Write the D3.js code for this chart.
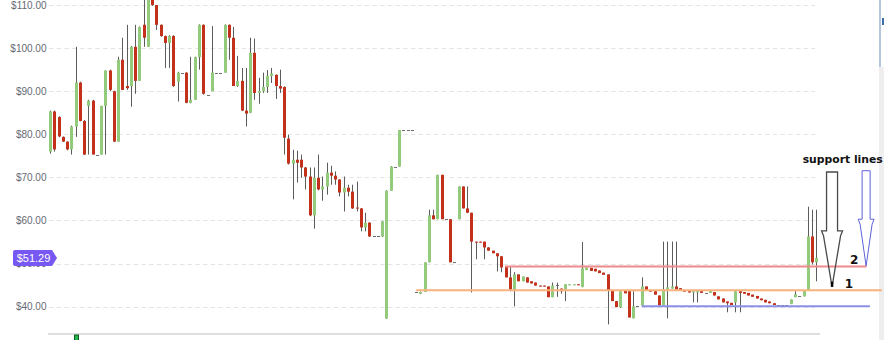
<!DOCTYPE html>
<html>
  <head>
    <meta charset="utf-8">
    <title>Price chart with support lines</title>
    <script src="https://d3js.org/d3.v7.min.js"></script>
    <style>
      body { margin: 0; background: #fff; }
      svg { display: block; font-family: "Liberation Sans", Arial, sans-serif; }
    </style>
  </head>
  <body>
    <svg width="884" height="340"></svg>
    <script>
    // one value per session
    var open = [
      76, 85.3, 84, 79.4, 78.3, 76.5, 81.8, 92, 83.1, 86.6,
      87.8, 75.3, 75.3, 86.6, 94.8, 90, 78.3, 97.3, 91.2, 91.2,
      100.3, 92.4, 105.4, 100.3, 112, 110, 105.4, 102.8, 101.2, 102.8,
      92.2, 94.3, 94.3, 87.3, 88, 97.9, 105.4, 89.2, 90, 94.3,
      94.3, 94.3, 105.4, 102.4, 91.2, 92.4, 85.5, 85, 98.9, 89.6,
      90, 91, 93.5, 93.8, 91.2, 91, 79, 73.2, 74.1, 74.1,
      72.3, 70.2, 61.2, 69.9, 67.2, 67.9, 71.1, 70.4, 69.5, 66.5,
      67.6, 66.7, 63, 62.8, 58.4, 59.5, 56.3, 56.3, 56.3, 37.3,
      66.9, 72.5, 72.5, 81, 81, 81, 43.3, 43, 43.4, 50.3,
      61.2, 60.3, 70.6, 60.3, 60.3, 50.3, 60.3, 67.9, 62.8, 61.8,
      55.1, 55.1, 55.1, 53.75, 53, 52.4, 51.7, 49.4, 46.8, 44,
      47.5, 45.9, 46.8, 45.9, 45.6, 44.9, 44.9, 44.7, 42.2, 45,
      44.2, 44, 45, 45, 45.2, 44.6, 48.5, 49, 48.8, 48.4,
      47.9, 47.5, 43.8, 41.3, 39.9, 43.8, 43.6, 37.3, 40.1, 40.3,
      44.7, 43.9, 43.6, 42.6, 40.3, 44, 44.2, 44.7, 44.3, 43.9,
      43.6, 43.3, 43.3, 43.6, 43.2, 43.2, 43.4, 42.4, 41.9, 41.2,
      40.9, 41, 43.6, 43.4, 43.2, 42.8, 42.5, 41.9, 41.6, 41.2,
      40.8, 40.4, 40.4, 40.4, 40.6, 42.2, 42.5, 42.4, 43.8, 56.3, 50.3
    ];
    var high = [
      85.5, 85.5, 84.2, 79.5, 78.4, 82, 100.3, 92.2, 83.3, 88,
      88, 75.3, 86.6, 94.8, 95, 90.1, 98, 102.4, 105.4, 100.5,
      105.4, 105, 112, 113, 112.5, 110, 105.5, 102.9, 103, 103,
      94.5, 94.3, 94.4, 98, 98, 105.5, 105.5, 89.2, 105.1, 94.3,
      94.3, 105.5, 105.5, 104.9, 98.2, 95.4, 95.4, 102.4, 102.2, 93.1,
      94.3, 94.9, 95.4, 93.9, 95, 91.1, 79.9, 76.4, 76.2, 75.3,
      72.4, 72.3, 72.3, 75.3, 70.2, 73.4, 72.7, 71.4, 69.6, 70.2,
      68.3, 68.3, 69, 62.9, 61.8, 59.6, 56.3, 56.3, 59.9, 67,
      72.6, 72.5, 81, 81, 81, 81, 43.3, 43.5, 50.3, 62.5,
      62.5, 70.6, 70.6, 60.3, 60.3, 50.3, 67.9, 67.9, 67.9, 61.8,
      55.1, 55.1, 55.1, 53.8, 53, 52.4, 51.7, 49.4, 49.4, 48,
      47.5, 47, 46.8, 45.9, 45.6, 44.9, 44.9, 44.7, 45.6, 45.6,
      44.2, 45.2, 45.2, 45.2, 45.2, 55, 49.1, 49, 48.8, 48.4,
      47.9, 47.5, 43.8, 41.3, 43.6, 43.8, 43.6, 43.6, 40.1, 46.8,
      44.7, 43.9, 43.6, 42.6, 55.1, 55.1, 55.1, 55.1, 44.3, 43.9,
      43.6, 43.6, 43.6, 43.6, 43.2, 43.6, 43.4, 42.4, 41.9, 41.2,
      40.9, 43.6, 43.6, 43.4, 43.2, 42.8, 42.5, 41.9, 41.6, 41.2,
      40.8, 40.4, 40.4, 40.4, 41.7, 43.6, 42.5, 43.6, 63.2, 62.5, 62.5
    ];
    var low = [
      75.5, 76, 79.3, 78.2, 76.3, 75.3, 79.4, 83, 75.2, 75.3,
      75.3, 75.3, 75.3, 75.3, 90, 78.2, 78.3, 90.3, 90.3, 86.4,
      89.4, 92.4, 100.3, 100.3, 109.8, 104.2, 102.6, 95.4, 95.4, 91,
      87.6, 94.3, 87.2, 87.2, 88, 95, 89.2, 89.2, 90, 94.3,
      94.3, 94.3, 97.3, 91.2, 91, 85.4, 81.8, 84.9, 88, 87.1,
      89.6, 89.6, 91.9, 88.2, 89.6, 75.3, 73, 64.9, 68.8, 69.9,
      67.2, 61, 58.1, 67, 64.6, 66, 68.3, 68.3, 65.6, 62.1,
      65.6, 62.7, 62.1, 57.5, 57.5, 56.2, 56.3, 56.3, 56.2, 37.2,
      66.9, 72.5, 72.5, 81, 81, 81, 43.3, 42.9, 43.4, 50.3,
      60.2, 60.3, 60.3, 60.3, 50.3, 50.3, 60.3, 62.8, 61.7, 43.3,
      51, 54.9, 51, 53, 52.4, 48.2, 48, 46.8, 43.6, 40.1,
      45.9, 45.9, 45.6, 45.4, 44.9, 44.7, 44.7, 42.2, 42.2, 42.3,
      43, 41.3, 45, 45, 45, 44.5, 48.5, 48.3, 48.2, 47.8,
      47.4, 35.9, 41.3, 39.9, 39.7, 43.1, 37.5, 37.3, 40.1, 40.3,
      43.8, 43.5, 42.8, 40.3, 40.3, 37.3, 44.2, 44, 43.8, 43.5,
      43.3, 41, 41, 43.2, 43.2, 43.2, 42.6, 41.7, 41, 38.7,
      40.4, 38.7, 38.7, 43, 42.6, 42.3, 41.9, 41.5, 41, 40.8,
      40.4, 40.4, 40.4, 40.4, 40.6, 42.2, 42.5, 42.4, 43.8, 49.8, 45.9
    ];
    var close = [
      85.3, 76.5, 79.5, 78.3, 76.5, 81.8, 92, 83.1, 75.3, 87.8,
      75.3, 75.3, 86.6, 94.8, 90.3, 78.3, 97.3, 90.3, 90.7, 100.3,
      92.4, 104.9, 102.4, 111.5, 110, 105.4, 102.8, 101.2, 102.8, 91.2,
      94.3, 94.3, 87.3, 88, 97.9, 105.4, 89.4, 89.2, 94.3, 94.3,
      94.3, 105.4, 102.4, 91.2, 92.4, 85.5, 84.8, 98.9, 89.6, 90,
      91, 93.6, 94.1, 91.2, 90.6, 79.2, 73.2, 74.1, 73.4, 72.3,
      70.2, 61.2, 69.9, 67.2, 67.9, 71.1, 70.4, 69.5, 66.5, 67.6,
      66.7, 62.8, 62.8, 58.4, 59.5, 56.3, 56.3, 56.3, 59.8, 66.9,
      72.5, 72.5, 81, 81, 81, 81, 43.3, 43.4, 50.3, 61.2,
      60.3, 70.6, 60.3, 60.3, 50.3, 50.3, 67.9, 62.8, 61.8, 55.1,
      54.9, 54.9, 53.75, 53, 52.4, 51.7, 49.1, 46.8, 44, 47.5,
      45.9, 47, 45.6, 45.4, 44.9, 44.7, 44.7, 42.2, 44.9, 45,
      43.6, 45.2, 45.2, 45.2, 45, 48.9, 49.1, 48.3, 48.2, 47.8,
      47.4, 43.8, 41.3, 39.9, 43.6, 43.1, 37.5, 40.1, 40.1, 44.7,
      43.8, 43.5, 42.8, 40.3, 44, 44.5, 44.7, 44, 43.8, 43.5,
      43.3, 43.6, 43.6, 43.2, 43.2, 43.6, 42.6, 41.7, 41, 40.8,
      40.4, 43.6, 43.2, 43, 42.6, 42.3, 41.9, 41.5, 41, 40.8,
      40.4, 40.4, 40.4, 40.4, 41.7, 42.9, 42.5, 43.6, 56.3, 50.3, 51.3
    ];

    // y axis ticks and the last traded price
    var priceTicks = [40, 50, 60, 70, 80, 90, 100, 110];
    var lastPrice = 51.29;

    // drawn levels: price, first and last session they span
    var levelPrice = [49.35, 43.8, 40.1];
    var levelFrom = [106.9, 86, 139];
    var levelTo = [191.8, 195.4, 192.6];

    // session with the marker under the axis
    var markerSession = 6;

    var svg = d3.select("svg");

    // session index -> candle centre, price -> pixel row
    var x = d3.scaleLinear().domain([0, 180]).range([50, 816.3]);
    var y = d3.scaleLinear().domain([40, 110]).range([306.7, 5]);

    var levelColor = d3.scaleOrdinal().domain([0, 1, 2])
        .range(["#ee8a8a", "#f8b27e", "#8c8fe6"]);

    //scrollbar edge on the right
    svg.append("rect")
        .attr("x", 879).attr("y", 67).attr("width", 5).attr("height", 273)
        .attr("fill", "#eeeeee");
    svg.append("line")
        .attr("x1", 880).attr("x2", 880).attr("y1", 0).attr("y2", 67)
        .attr("stroke", "#9db3cf").attr("stroke-width", 1.5);
    svg.append("rect")
        .attr("x", 882).attr("y", 18).attr("width", 2).attr("height", 7)
        .attr("fill", "#3b6ea8");

    //dashed gridlines
    svg.append("g")
        .selectAll("line")
        .data(priceTicks)
        .enter().append("line")
          .attr("x1", 49)
          .attr("x2", 815)
          .attr("y1", function(d) { return Math.round(y(d)) + 0.5; })
          .attr("y2", function(d) { return Math.round(y(d)) + 0.5; })
          .attr("stroke", "#e4e4e4")
          .attr("stroke-dasharray", "4.5,3.2");

    //bottom axis line
    svg.append("line")
        .attr("x1", 48).attr("x2", 820)
        .attr("y1", 334).attr("y2", 334)
        .attr("stroke", "#dedede")
        .attr("stroke-width", 2);

    //y axis labels
    var yAxis = svg.append("g")
        .attr("transform", "translate(48,0)")
        .call(d3.axisLeft(y).tickValues(priceTicks).tickSize(0).tickPadding(1.5)
          .tickFormat(function(d) { return "$" + d.toFixed(2); }));
    yAxis.select(".domain").remove();
    yAxis.selectAll("text")
        .attr("font-size", "10px")
        .attr("font-family", "Liberation Sans, Arial, sans-serif")
        .attr("fill", "#666a74");

    //candles
    var candles = d3.range(open.length).map(function(i) {
      return {i: i, o: open[i], h: high[i], l: low[i], c: close[i]};
    });

    var cg = svg.append("g")
        .selectAll("g")
        .data(candles)
        .enter().append("g");

    cg.filter(function(d) { return d.h > d.l; })
      .append("line")
        .attr("x1", function(d) { return Math.round(x(d.i)) + 0.5; })
        .attr("x2", function(d) { return Math.round(x(d.i)) + 0.5; })
        .attr("y1", function(d) { return y(d.h); })
        .attr("y2", function(d) { return y(d.l); })
        .attr("stroke", "#5c5c5c")
        .attr("stroke-width", 1);

    cg.append("rect")
        .attr("x", function(d) { return Math.round(x(d.i)) - 1; })
        .attr("width", 3)
        .attr("y", function(d) { return d.o == d.c ? Math.round(y(d.o)) : y(Math.max(d.o, d.c)); })
        .attr("height", function(d) { return Math.max(1, Math.abs(y(d.o) - y(d.c))); })
        .attr("fill", function(d) {
          if (d.o == d.c) return "#6e6e6e";
          return d.c > d.o ? "#92cb7c" : "#c3311b";
        });

    //support levels
    svg.append("g")
        .selectAll("line")
        .data(levelPrice)
        .enter().append("line")
          .attr("x1", function(d, i) { return x(levelFrom[i]); })
          .attr("x2", function(d, i) { return x(levelTo[i]); })
          .attr("y1", function(d) { return y(d); })
          .attr("y2", function(d) { return y(d); })
          .attr("stroke", function(d, i) { return levelColor(i); })
          .attr("stroke-width", 2);

    //marker under the axis
    svg.append("rect")
        .attr("x", Math.round(x(markerSession)) - 1.5)
        .attr("y", 335)
        .attr("width", 4)
        .attr("height", 6)
        .attr("fill", "#25b54a")
        .attr("stroke", "#0c5a20")
        .attr("stroke-width", 1);

    //last price tag
    var ty = y(lastPrice);
    svg.append("path")
        .attr("d", "M15," + (ty - 8) + "H52L57," + ty + "L52," + (ty + 8) + "H15Q13," + (ty + 8) + " 13," + (ty + 6) +
              "V" + (ty - 6) + "Q13," + (ty - 8) + " 15," + (ty - 8) + "Z")
        .attr("fill", "#7758f2");
    svg.append("text")
        .attr("x", 33.5)
        .attr("y", ty)
        .attr("dy", "0.35em")
        .attr("text-anchor", "middle")
        .attr("font-size", "11px")
        .attr("fill", "#fff")
        .text("$" + lastPrice.toFixed(2));

    //outlined arrows pointing at the two levels
    function arrow(session, topPrice, neckPrice, tipPrice, shaft, head) {
      var cx = x(session), t = y(topPrice), n = y(neckPrice), p = y(tipPrice);
      return "M" + (cx - shaft) + "," + t + "H" + (cx + shaft) + "V" + n +
             "H" + (cx + head) + "L" + (cx + head - 2) + "," + (n + 5) +
             "L" + cx + "," + p +
             "L" + (cx - head + 2) + "," + (n + 5) + "L" + (cx - head) + "," + n +
             "H" + (cx - shaft) + "Z";
    }

    svg.append("path")
        .attr("d", arrow(183.7, 71.25, 57.6, 44.6, 5.5, 10.5))
        .attr("fill", "none")
        .attr("stroke", "#4a4a4a")
        .attr("stroke-width", 1.3);
    svg.append("line")
        .attr("x1", x(183.7)).attr("x2", x(183.7))
        .attr("y1", y(45.8)).attr("y2", y(44.6))
        .attr("stroke", "#000")
        .attr("stroke-width", 2.5);

    svg.append("path")
        .attr("d", arrow(191.7, 71.55, 60.3, 49.45, 4, 8))
        .attr("fill", "none")
        .attr("stroke", "#5d62d8")
        .attr("stroke-width", 1);

    //annotation texts, drawn last so nothing covers them
    var notes = svg.append("g")
        .attr("font-family", "DejaVu Sans, Verdana, sans-serif")
        .attr("font-weight", "bold")
        .attr("fill", "#111");
    notes.append("text")
        .attr("x", x(176.8)).attr("y", y(73.3))
        .attr("font-size", "10.8px")
        .text("support lines");
    notes.append("text")
        .attr("x", x(187.9)).attr("y", y(49.9))
        .attr("font-size", "12px")
        .text("2");
    notes.append("text")
        .attr("x", x(186.7)).attr("y", y(44.3))
        .attr("font-size", "12px")
        .text("1");
    </script>
  </body>
</html>
